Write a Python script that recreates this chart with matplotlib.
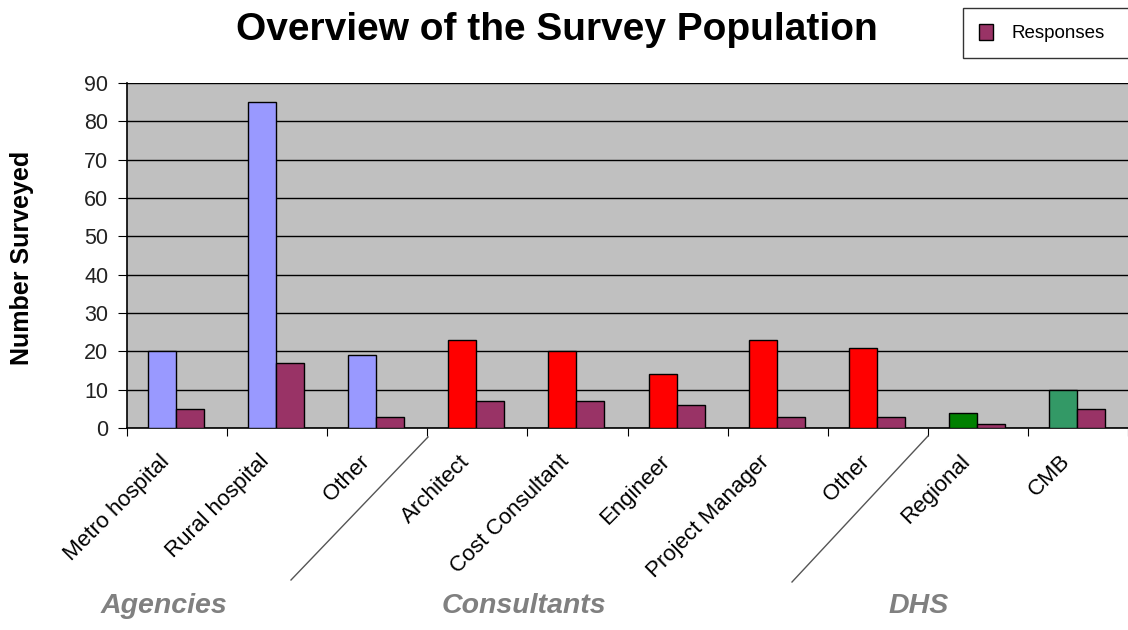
import matplotlib.pyplot as plt
from matplotlib.lines import Line2D
from matplotlib.patches import Patch
import numpy as np

plt.rcParams['font.family'] = ['Liberation Sans', 'DejaVu Sans']

categories = ['Metro hospital', 'Rural hospital', 'Other', 'Architect', 'Cost Consultant',
              'Engineer', 'Project Manager', 'Other', 'Regional', 'CMB']
surveyed = [20, 85, 19, 23, 20, 14, 23, 21, 4, 10]
responses = [5, 17, 3, 7, 7, 6, 3, 3, 1, 5]
group_names = ['Agencies', 'Consultants', 'DHS']
group_of = [0, 0, 0, 1, 1, 1, 1, 1, 2, 2]
group_colors = ['#9999FF', '#FF0000', '#008000']
cmb_color = '#339966'
resp_color = '#993366'

fig = plt.figure(figsize=(11.28, 6.3), dpi=100)
ax = fig.add_axes([127 / 1128, 202 / 630, 1 - 127 / 1128, 345 / 630])
ax.set_facecolor('#C0C0C0')

x = np.arange(len(categories))
cols = [group_colors[g] for g in group_of]
cols[-1] = cmb_color
w = 0.28
ax.bar(x + 0.21, surveyed, w, align='edge', color=cols, edgecolor='black', linewidth=1, zorder=3)
ax.bar(x + 0.49, responses, w, align='edge', color=resp_color, edgecolor='black', linewidth=1, zorder=3)

ax.set_xlim(0, len(categories))
ax.set_ylim(0, 90)
ax.set_yticks(range(0, 91, 10))
ax.yaxis.grid(True, color='black', linewidth=1, zorder=1)
ax.set_axisbelow(True)
for s in ['top', 'right']:
    ax.spines[s].set_visible(False)
ax.spines['left'].set_linewidth(1.2)
ax.spines['bottom'].set_linewidth(1.2)
ax.tick_params(axis='y', direction='out', length=6.5, labelsize=15.5, pad=7, labelcolor='#222222')

# boundaries get the ticks, names sit between them
ax.set_xticks(np.arange(len(categories) + 1))
ax.set_xticklabels([])
ax.tick_params(axis='x', which='major', direction='out', length=6)
ax.set_xticks(x + 0.39, categories, minor=True)
ax.tick_params(axis='x', which='minor', length=0, pad=22, labelsize=16)
for lab in ax.get_xticklabels(minor=True):
    lab.set_rotation(45)
    lab.set_ha('right')
    lab.set_va('center')
    lab.set_rotation_mode('anchor')

fig.text(22 / 1128, 1 - 258 / 630, 'Number Surveyed', rotation=90, ha='center', va='center',
         fontsize=18, fontweight='bold')
fig.text(557 / 1128, 1 - 30 / 630, 'Overview of the Survey Population',
         ha='center', va='center', fontsize=28, fontweight='bold')

# slanted separators between the groups
for (x0, y0), (x1, y1) in [((428, 437), (291, 580)), ((928, 436), (792, 582))]:
    fig.add_artist(Line2D([x0 / 1128, x1 / 1128], [1 - y0 / 630, 1 - y1 / 630],
                          transform=fig.transFigure, color='#555555', linewidth=1))

for name, cx in zip(group_names, [164, 524, 919]):
    fig.text(cx / 1128, 1 - 606 / 630, name, ha='center', va='center', fontsize=20.5,
             fontweight='bold', fontstyle='italic', color='#808080')

leg = fig.legend(handles=[Patch(facecolor=resp_color, edgecolor='black', label='Responses')],
                 loc='upper left', bbox_to_anchor=(963 / 1128, 1 - 57 / 630, 190 / 1128, 49 / 630),
                 mode='expand', fontsize=13.5, frameon=True, fancybox=False, handlelength=0.75,
                 handleheight=0.9, borderpad=0.85, handletextpad=1.0, borderaxespad=0)
leg.get_frame().set_edgecolor('black')
leg.get_frame().set_linewidth(1)

fig.savefig('out.png', dpi=100)
